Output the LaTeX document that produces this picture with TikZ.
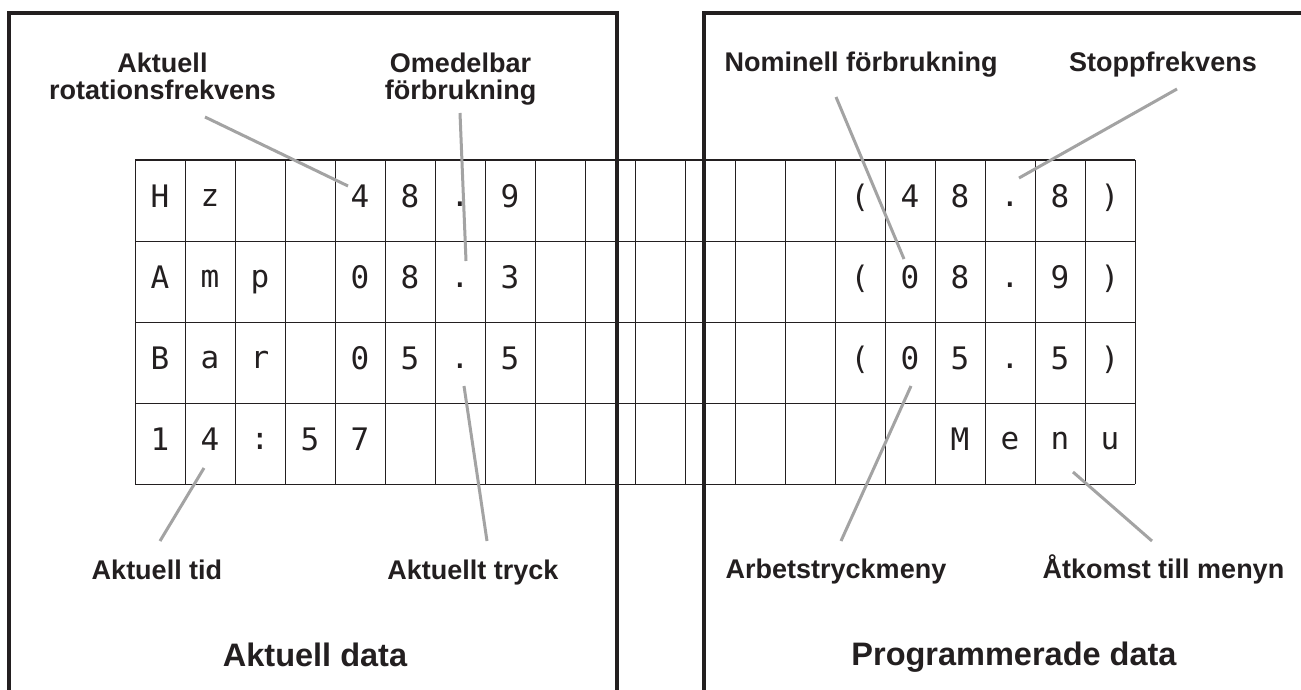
\documentclass[tikz,border=0pt]{standalone}
\usepackage{fontspec}
\setmainfont{Liberation Sans}
\newfontfamily\lcdfont{DejaVu Sans Mono}
\definecolor{ink}{HTML}{231F20}
\definecolor{leader}{HTML}{A3A3A3}
\tikzset{
  frame/.style={draw=ink, line width=3.2pt},
  gridline/.style={draw=ink, line width=1pt},
  leaderline/.style={draw=leader, line width=3pt},
  lbl/.style={inner sep=0pt, anchor=base, text=ink, align=center,
    font=\bfseries\fontsize{27}{27.5}\selectfont},
  ttl/.style={inner sep=0pt, anchor=base, text=ink,
    font=\bfseries\fontsize{32.5}{34}\selectfont},
  lcd/.style={inner sep=0pt, text=ink, font=\lcdfont\fontsize{31}{31}\selectfont}
}
\newcommand\lcdc[3]{\node[lcd] (c#1-#2) at ({160+50*#2},{200.5+81*#1}) {\strut#3};}
\begin{document}
\begin{tikzpicture}[x=1pt,y=-1pt]
\useasboundingbox[fill=white] (0,0) rectangle (1301,690);
% grid
\foreach \i in {0,...,20} \draw[gridline] ({135+50*\i},160) -- ({135+50*\i},484);
\foreach \j in {0,...,4} \draw[gridline] (135,{160+81*\j}) -- (1135,{160+81*\j});
% lcd characters
\lcdc{0}{0}{H}\lcdc{0}{1}{z}\lcdc{0}{4}{4}\lcdc{0}{5}{8}\lcdc{0}{6}{.}\lcdc{0}{7}{9}
\lcdc{0}{14}{(}\lcdc{0}{15}{4}\lcdc{0}{16}{8}\lcdc{0}{17}{.}\lcdc{0}{18}{8}\lcdc{0}{19}{)}
\lcdc{1}{0}{A}\lcdc{1}{1}{m}\lcdc{1}{2}{p}\lcdc{1}{4}{0}\lcdc{1}{5}{8}\lcdc{1}{6}{.}\lcdc{1}{7}{3}
\lcdc{1}{14}{(}\lcdc{1}{15}{0}\lcdc{1}{16}{8}\lcdc{1}{17}{.}\lcdc{1}{18}{9}\lcdc{1}{19}{)}
\lcdc{2}{0}{B}\lcdc{2}{1}{a}\lcdc{2}{2}{r}\lcdc{2}{4}{0}\lcdc{2}{5}{5}\lcdc{2}{6}{.}\lcdc{2}{7}{5}
\lcdc{2}{14}{(}\lcdc{2}{15}{0}\lcdc{2}{16}{5}\lcdc{2}{17}{.}\lcdc{2}{18}{5}\lcdc{2}{19}{)}
\lcdc{3}{0}{1}\lcdc{3}{1}{4}\lcdc{3}{2}{:}\lcdc{3}{3}{5}\lcdc{3}{4}{7}
\lcdc{3}{16}{M}\lcdc{3}{17}{e}\lcdc{3}{18}{n}\lcdc{3}{19}{u}
% frames
\draw[frame] (9,690) -- (9,13) -- (617,13) -- (617,690);
\draw[frame] (704,690) -- (704,13) -- (1310,13);
% labels
\node[lbl] (rot) at (162.5,100) {Aktuell\\rotationsfrekvens};
\node[lbl] (ome) at (460.5,100) {Omedelbar\\förbrukning};
\node[lbl] (nom) at (861,72) {Nominell förbrukning};
\node[lbl] (stp) at (1163,72) {Stoppfrekvens};
\node[lbl] (tid) at (157,579) {Aktuell tid};
\node[lbl] (try) at (473,579) {Aktuellt tryck};
\node[lbl] (arb) at (836,578) {Arbetstryckmeny};
\node[lbl] (atk) at (1163.5,578) {Åtkomst till menyn};
\node[ttl] (ad) at (315,666) {Aktuell data};
\node[ttl] (pd) at (1014,665) {Programmerade data};
% leader ends
\coordinate (rot-a) at (205,117);  \coordinate (rot-b) at (348,186);
\coordinate (ome-a) at (460,113);  \coordinate (ome-b) at (466,261);
\coordinate (nom-a) at (836,97);   \coordinate (nom-b) at (904,259);
\coordinate (stp-a) at (1177,89);  \coordinate (stp-b) at (1019,178);
\coordinate (tid-a) at (160,541);  \coordinate (tid-b) at (204,468);
\coordinate (try-a) at (487,541);  \coordinate (try-b) at (464,386);
\coordinate (arb-a) at (841,541);  \coordinate (arb-b) at (911,386);
\coordinate (atk-a) at (1152,541); \coordinate (atk-b) at (1073,472);
\foreach \n in {rot,ome,nom,stp,tid,try,arb,atk}
  \draw[leaderline] (\n-a) -- (\n-b);
\end{tikzpicture}
\end{document}
